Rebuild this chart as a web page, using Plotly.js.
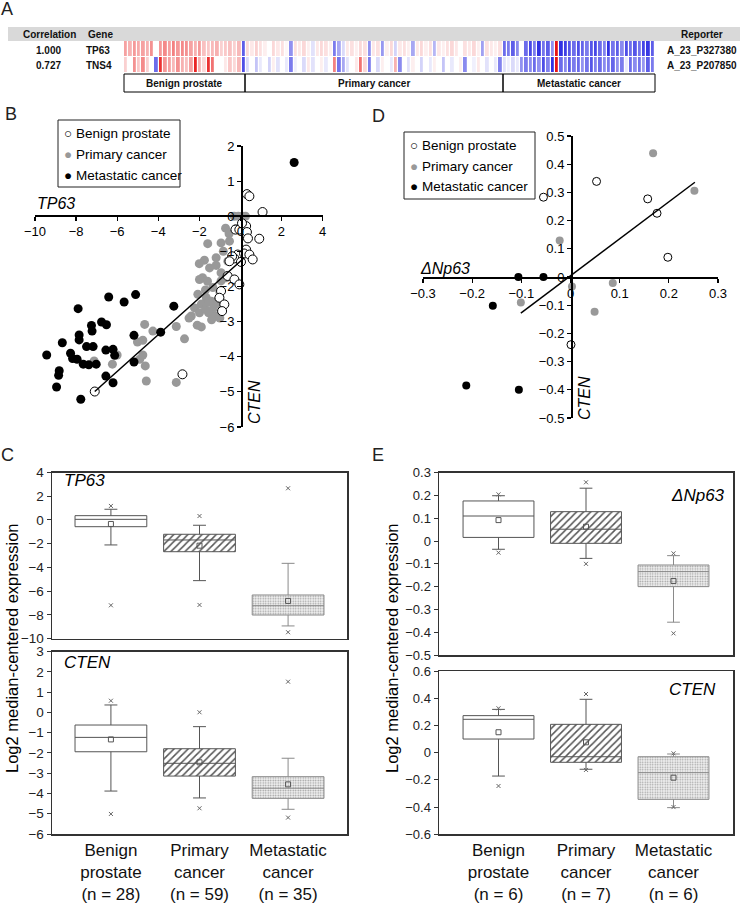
<!DOCTYPE html>
<html>
<head>
<meta charset="utf-8">
<script src="https://cdn.plot.ly/plotly-3.0.1.min.js"></script>
<style>
  html, body { margin: 0; padding: 0; background: #fff; }
  #chart { width: 748px; height: 904px; }
</style>
</head>
<body>
<div id="chart"></div>
<script>
// ---- panel A : heatmap (28 benign, 59 primary, 35 metastatic samples) ----
var tp63Benign = [1.2, 1.0, 1.3, 1.1, 1.2, 1.0, 1.4, 0.0, 1.3, 1.5,
  1.2, 1.6, 1.3, 1.5, 1.4, 1.2, 1.0, 1.3, 0.8, 0.7,
  0.9, 1.0, 0.6, 0.7, 0.8, 0.6, 0.9, -2.2];
var tp63Primary = [0.5, 0.3, 0.6, 0.4, 0.2, 0.0, 0.5, 0.3, 0.4, 0.1,
  -1.5, 0.4, 0.3, 0.5, 0.2, -0.4, 0.3, 0.5, 0.4, 0.2,
  -1.8, -1.2, -0.5, 0.3, 0.4, 0.2, 0.5, 0.4, -1.5, 0.3,
  0.4, -1.4, 0.2, 0.5, -0.6, 0.3, 0.4, 0.2, -1.2, 0.3,
  0.5, 0.2, 0.4, -1.0, 0.3, 0.2, 0.4, 0.5, 0.3, 0.0,
  0.4, 0.3, 0.5, 0.2, -1.3, 0.4, 0.3, 0.2, 0.4];
var tp63Meta = [-2.0, -1.8, -2.2, -1.6, 0.0, -2.0, -2.5, -1.8, -2.8, -1.9,
  -2.2, -1.5, 3.0, -2.8, -2.6, -2.3, -2.0, -2.4, -2.1, -1.8,
  -2.3, -2.5, -2.0, -1.7, -2.8, -1.9, -2.2, -1.6, -2.4, -2.0,
  -2.3, -1.9, -2.5, -2.7, -2.2];
var tns4Benign = [0.6, 0.0, 1.4, 0.7, 1.5, 0.6, 0.0, -2.0, 2.6, 1.3,
  1.2, 0.9, 1.4, 1.0, 0.8, 1.2, 2.8, 1.0, 0.5, 2.6,
  1.8, 0.0, 0.0, 0.3, 0.7, 0.5, 0.9, -2.4];
var tns4Primary = [-0.5, 0.0, -0.8, -0.3, 0.0, -0.6, 0.2, -0.4, 0.0, -0.3,
  -1.8, -0.2, 0.0, -0.5, 0.3, -0.4, 0.0, 0.2, -0.3, 0.0,
  1.6, -1.9, -1.2, -0.4, 0.0, 0.3, 1.8, 0.5, -1.8, 0.0,
  -0.5, 0.2, 0.0, -0.3, 1.0, -1.6, 0.0, -0.4, 0.2, 0.0,
  -0.6, 0.0, -0.3, 0.2, 0.0, -0.8, 0.0, -0.3, 0.0, 0.2,
  -1.6, 0.0, -0.2, 0.3, 0.0, -0.4, 0.0, -0.3, -1.7];
var tns4Meta = [-0.4, -0.2, -0.5, -0.3, -1.5, -1.8, -1.6, -2.0, -1.5, -2.4,
  -1.7, -2.8, 3.0, -2.0, -1.6, -2.2, -1.8, -2.0, -1.5, -1.9,
  -2.3, -1.7, -2.0, -1.6, -1.8, -2.1, -1.5, -1.8, -0.3, -2.0,
  -1.6, -1.9, -1.4, -2.2, -1.8];

// ---- panel B : TP63 vs CTEN ----
var benignBx = [0.32, 0.44, 1.08, -0.24, -0.05, 0.28, 0.32, 0.37, 0.92, 0.28, -0.13, 0.18, 0.44, 0.60,
  -0.29, -0.40, -0.53, 0.03, -0.62, -0.29, -0.05, -0.94, -1.02, -0.78, -0.89, -2.82, -7.09, 0.08];
var benignBy = [0.63, 0.57, 0.12, -0.38, -0.38, -0.28, -0.45, -0.63, -0.64, -0.95, -1.09, -1.06, -1.09, -1.23,
  -1.20, -1.14, -1.28, -1.30, -1.70, -1.80, -1.94, -2.13, -2.32, -2.51, -2.70, -4.50, -4.99, -0.20];
var primaryBx = [-0.30, -0.10, 0.10, 0.25, -0.21, -0.72, -0.53, -1.59, -0.94, -0.83, -1.75, -1.18, -1.50, -1.18,
  -0.94, -1.84, -1.99, -1.60, -1.34, -1.70, -2.07, -1.66, -1.42, -1.18, -1.90, -2.23, -1.34, -1.55, -0.94,
  -0.69, -0.61, -2.39, -1.99, -1.70, -1.55, -1.10, -1.20, -1.40, -1.00, -1.90, -2.10, -3.12, -2.72, -4.66,
  -4.26, -5.01, -4.75, -4.90, -4.63, -4.58, -3.12, -6.23, -7.12, -6.00, -4.75, -2.50, -0.55, -2.00, -1.00];
var primaryBy = [0.00, 0.00, 0.00, 0.00, -0.35, -0.34, -0.71, -0.78, -0.76, -1.00, -1.25, -1.18, -1.47, -1.40,
  -1.61, -1.75, -1.80, -1.85, -2.03, -2.10, -2.22, -2.32, -2.42, -2.51, -2.50, -2.61, -2.65, -2.75, -1.84,
  -1.75, -1.28, -2.84, -2.75, -2.65, -2.45, -2.40, -2.85, -2.95, -2.90, -3.15, -3.10, -3.14, -3.49, -3.08,
  -3.27, -3.58, -3.53, -4.07, -4.26, -4.69, -4.73, -4.21, -4.12, -3.95, -3.95, -2.90, -0.50, -1.35, -2.15];
var metaBx = [-9.43, -8.67, -7.90, -7.85, -7.85, -8.27, -8.17, -7.95, -7.65, -7.38, -7.02, -7.49, -7.17, -7.25,
  -7.22, -6.76, -6.52, -6.41, -5.66, -5.10, -6.55, -6.20, -6.12, -5.18, -5.18, -3.88, -3.24, -8.82, -8.85,
  -6.55, -6.20, -8.95, -7.77, 2.62];
var metaBy = [-3.95, -3.60, -2.63, -3.38, -3.52, -3.90, -4.05, -4.07, -4.21, -4.23, -4.21, -3.71, -3.71, -3.11,
  -3.27, -3.01, -3.09, -2.30, -2.44, -2.23, -3.81, -3.79, -3.96, -3.39, -4.15, -3.30, -2.56, -4.40, -4.53,
  -4.55, -4.74, -4.86, -5.21, 1.53];
var fitBx = [-7.09, 0.19];
var fitBy = [-4.99, -1.18];

// ---- panel D : deltaNp63 vs CTEN ----
var benignDx = [-0.055, 0.053, 0.157, 0.176, 0.198, 0.001];
var benignDy = [0.283, 0.339, 0.277, 0.226, 0.070, -0.240];
var primaryDx = [0.168, 0.252, -0.022, 0.003, 0.086, -0.101, 0.049];
var primaryDy = [0.439, 0.306, 0.129, -0.034, -0.021, -0.090, -0.123];
var metaDx = [-0.106, -0.055, -0.158, -0.212, -0.105];
var metaDy = [0.0, 0.0, -0.102, -0.385, -0.400];
var fitDx = [-0.101, 0.253];
var fitDy = [-0.128, 0.336];

// ---- panels C and E : box stats per group ----
// [low x, low whisker, q1, median, q3, high whisker, high x, mean]
var tp63Stats = [
  [-7.20, -2.11, -0.57, 0.05, 0.36, 0.90, 1.18, -0.34],
  [-7.17, -5.12, -2.68, -1.69, -1.21, -0.45, 0.33, -2.17],
  [-9.47, -8.94, -8.02, -7.23, -6.33, -3.66, 2.67, -6.83]
];
var ctenStatsC = [
  [-5.01, -3.88, -1.94, -1.23, -0.62, 0.37, 0.58, -1.33],
  [-4.73, -4.22, -3.14, -2.51, -1.79, -0.70, 0.01, -2.46],
  [-5.19, -4.78, -4.24, -3.74, -3.17, -2.26, 1.52, -3.55]
];
var np63Stats = [
  [-0.051, -0.036, 0.016, 0.110, 0.176, 0.199, 0.205, 0.092],
  [-0.100, -0.076, -0.010, 0.052, 0.129, 0.232, 0.258, 0.063],
  [-0.405, -0.356, -0.200, -0.134, -0.105, -0.064, -0.054, -0.175]
];
var ctenStatsE = [
  [-0.245, -0.172, 0.100, 0.245, 0.272, 0.318, 0.326, 0.150],
  [-0.127, -0.122, -0.071, -0.030, 0.208, 0.392, 0.431, 0.076],
  [-0.400, -0.404, -0.343, -0.147, -0.030, -0.010, -0.005, -0.184]
];
var labelsC = ['Benign<br>prostate<br>(n = 28)', 'Primary<br>cancer<br>(n = 59)', 'Metastatic<br>cancer<br>(n = 35)'];
var labelsE = ['Benign<br>prostate<br>(n = 6)', 'Primary<br>cancer<br>(n = 7)', 'Metastatic<br>cancer<br>(n = 6)'];

var W = 748, H = 904;
var FONT = 'Liberation Sans, Arial, sans-serif';
function X(px) { return px / W; }
function Y(py) { return 1 - py / H; }

var data = [];

// heatmap
data.push({
  type: 'heatmap',
  z: [tp63Benign.concat(tp63Primary, tp63Meta), tns4Benign.concat(tns4Primary, tns4Meta)],
  xaxis: 'x', yaxis: 'y',
  zmin: -3, zmax: 3,
  colorscale: [[0, 'rgb(35,35,225)'], [0.5, 'rgb(255,255,255)'], [1, 'rgb(232,20,20)']],
  showscale: false, xgap: 1.2, ygap: 1, hoverinfo: 'skip'
});

// scatter panels
function pts(x, y, xa, ya, kind, size) {
  var m = {size: size, color: '#000', line: {width: 0}};
  if (kind === 'benign') m = {size: size, color: '#fff', line: {color: '#000', width: 1}};
  if (kind === 'primary') m = {size: size, color: '#999', line: {width: 0}};
  return {type: 'scatter', mode: 'markers', x: x, y: y, xaxis: xa, yaxis: ya,
          marker: m, cliponaxis: false, showlegend: false, hoverinfo: 'skip'};
}
function fit(x, y, xa, ya) {
  return {type: 'scatter', mode: 'lines', x: x, y: y, xaxis: xa, yaxis: ya,
          line: {color: '#000', width: 1.5}, showlegend: false, hoverinfo: 'skip'};
}
data.push(pts(primaryBx, primaryBy, 'x2', 'y2', 'primary', 9));
data.push(pts(metaBx, metaBy, 'x2', 'y2', 'meta', 9));
data.push(pts(benignBx, benignBy, 'x2', 'y2', 'benign', 9));
data.push(fit(fitBx, fitBy, 'x2', 'y2'));
data.push(pts(primaryDx, primaryDy, 'x3', 'y3', 'primary', 8));
data.push(pts(metaDx, metaDy, 'x3', 'y3', 'meta', 8));
data.push(pts(benignDx, benignDy, 'x3', 'y3', 'benign', 8));
data.push(fit(fitDx, fitDy, 'x3', 'y3'));

// box panels
function boxPanel(stats, xa, ya) {
  data.push({
    type: 'bar', x: [0, 1, 2], xaxis: xa, yaxis: ya,
    base: stats.map(function(s) { return s[2]; }),
    y: stats.map(function(s) { return s[4] - s[2]; }),
    width: 0.81,
    marker: {color: '#fff', line: {width: 0},
      pattern: {shape: ['', '/', '.'], fgcolor: ['#fff', '#555', '#a0a0a0'],
                bgcolor: ['#fff', '#fff', '#f1f1f1'], size: [6, 5, 2.5], solidity: [0.1, 0.3, 0.3]}},
    showlegend: false, hoverinfo: 'skip'
  });
  stats.forEach(function(s, i) {
    data.push({
      type: 'box', x: [i], xaxis: xa, yaxis: ya,
      q1: [s[2]], median: [s[3]], q3: [s[4]], lowerfence: [s[1]], upperfence: [s[5]],
      width: 0.81, whiskerwidth: 0.18, fillcolor: 'rgba(0,0,0,0)',
      line: {color: i === 2 ? '#8a8a8a' : '#555', width: 1},
      boxpoints: false, showlegend: false, hoverinfo: 'skip'
    });
  });
  data.push({
    type: 'scatter', mode: 'markers', x: [0, 1, 2], xaxis: xa, yaxis: ya,
    y: stats.map(function(s) { return s[7]; }),
    marker: {symbol: 'square-open', size: 5, color: '#555', line: {width: 1}},
    showlegend: false, hoverinfo: 'skip'
  });
  data.push({
    type: 'scatter', mode: 'markers', x: [0, 0, 1, 1, 2, 2], xaxis: xa, yaxis: ya,
    y: [stats[0][0], stats[0][6], stats[1][0], stats[1][6], stats[2][0], stats[2][6]],
    marker: {symbol: 'x-thin-open', size: 4, color: '#666', line: {width: 1, color: '#666'}},
    cliponaxis: false, showlegend: false, hoverinfo: 'skip'
  });
}
boxPanel(tp63Stats, 'x4', 'y4');
boxPanel(ctenStatsC, 'x5', 'y5');
boxPanel(np63Stats, 'x6', 'y6');
boxPanel(ctenStatsE, 'x7', 'y7');

// axes
function crossAxis(domain, range, dtick, pos) {
  return {domain: domain, range: range, dtick: dtick, tick0: range[0], anchor: 'free', position: pos,
          showline: true, linecolor: '#000', linewidth: 1.5, ticks: 'outside', ticklen: 4,
          tickcolor: '#000', tickwidth: 1.2, showgrid: false, zeroline: false,
          tickfont: {size: 13, color: '#000'}, fixedrange: true};
}
function boxY(domain, range, dtick, size) {
  return {domain: domain, range: range, dtick: dtick, tick0: range[0], showline: true, mirror: true,
          linecolor: '#333', linewidth: 1.5, ticks: 'outside', ticklen: 4, tickcolor: '#333',
          showgrid: false, zeroline: false, tickfont: {size: size, color: '#222'}};
}
function boxX(domain, range, anchor, labels) {
  var ax = {domain: domain, range: range, anchor: anchor, showline: true, mirror: true,
            linecolor: '#333', linewidth: 1.5, ticks: '', showgrid: false, zeroline: false,
            tickvals: [0, 1, 2], showticklabels: false};
  if (labels) {
    ax.showticklabels = true;
    ax.ticktext = labels;
    ax.tickfont = {size: 17, color: '#111'};
  }
  return ax;
}

var layout = {
  width: W, height: H,
  margin: {l: 0, r: 0, t: 0, b: 0},
  paper_bgcolor: '#fff', plot_bgcolor: 'rgba(0,0,0,0)',
  font: {family: FONT, color: '#000'},
  showlegend: false, barmode: 'overlay', boxmode: 'overlay',
  xaxis: {domain: [X(124), X(655)], range: [-0.5, 121.5], visible: false, anchor: 'y'},
  yaxis: {domain: [Y(73), Y(41)], range: [1.5, -0.5], visible: false, anchor: 'x'},
  xaxis2: crossAxis([X(35), X(322.5)], [-10, 4], 2, Y(215)),
  yaxis2: crossAxis([Y(427), Y(146)], [-6, 2], 1, X(241)),
  xaxis3: crossAxis([X(423), X(718)], [-0.3, 0.3], 0.1, Y(277)),
  yaxis3: crossAxis([Y(418), Y(136)], [-0.5, 0.5], 0.1, X(571)),
  xaxis4: boxX([X(52), X(347)], [-0.665, 2.665], 'y4', null),
  yaxis4: boxY([Y(638.5), Y(472.5)], [-10, 4], 2, 13.5),
  xaxis5: boxX([X(52), X(347)], [-0.665, 2.665], 'y5', labelsC),
  yaxis5: boxY([Y(834), Y(651.7)], [-6, 3], 1, 13.5),
  xaxis6: boxX([X(439), X(733)], [-0.68, 2.68], 'y6', null),
  yaxis6: boxY([Y(655), Y(472.7)], [-0.5, 0.3], 0.1, 13),
  xaxis7: boxX([X(439), X(733)], [-0.68, 2.68], 'y7', labelsE),
  yaxis7: boxY([Y(834.3), Y(671)], [-0.6, 0.6], 0.2, 13)
};
layout.yaxis4.anchor = 'x4';
layout.yaxis5.anchor = 'x5';
layout.yaxis6.anchor = 'x6';
layout.yaxis7.anchor = 'x7';

// shapes: header band, group boxes, legend boxes
layout.shapes = [
  {type: 'rect', xref: 'paper', yref: 'paper', x0: X(8), x1: X(740), y0: Y(41), y1: Y(27),
   fillcolor: '#d9d9d9', line: {width: 0}, layer: 'below'},
  {type: 'rect', xref: 'paper', yref: 'paper', x0: X(124), x1: X(245), y0: Y(92), y1: Y(74), line: {color: '#000', width: 1}},
  {type: 'rect', xref: 'paper', yref: 'paper', x0: X(245), x1: X(503), y0: Y(92), y1: Y(74), line: {color: '#000', width: 1}},
  {type: 'rect', xref: 'paper', yref: 'paper', x0: X(503), x1: X(655), y0: Y(92), y1: Y(74), line: {color: '#000', width: 1}},
  {type: 'rect', xref: 'paper', yref: 'paper', x0: X(58), x1: X(180), y0: Y(187), y1: Y(120), line: {color: '#222', width: 1}, fillcolor: '#fff'},
  {type: 'rect', xref: 'paper', yref: 'paper', x0: X(404), x1: X(535), y0: Y(199), y1: Y(132), line: {color: '#222', width: 1}, fillcolor: '#fff'}
];

function note(text, px, py, opts) {
  var a = {text: text, xref: 'paper', yref: 'paper', x: X(px), y: Y(py), showarrow: false,
           xanchor: 'center', yanchor: 'middle', font: {family: FONT, size: 14, color: '#000'}};
  for (var k in opts) a[k] = opts[k];
  return a;
}
var bold10 = {size: 10, color: '#111'};
var legendRows = [
  '<span style="color:#000">○</span> Benign prostate',
  '<span style="color:#999">●</span> Primary cancer',
  '<span style="color:#000">●</span> Metastatic cancer'
];

layout.annotations = [
  note('A', 7, 9, {font: {size: 18, color: '#222'}}),
  note('B', 11, 114, {font: {size: 18, color: '#222'}}),
  note('D', 378, 116, {font: {size: 18, color: '#222'}}),
  note('C', 8, 455, {font: {size: 18, color: '#222'}}),
  note('E', 378, 455, {font: {size: 18, color: '#222'}}),

  note('<b>Correlation</b>', 49, 34, {font: bold10}),
  note('<b>Gene</b>', 100, 34, {font: bold10}),
  note('<b>Reporter</b>', 702, 34, {font: bold10}),
  note('<b>1.000</b>', 48, 50, {font: bold10}),
  note('<b>0.727</b>', 48, 66, {font: bold10}),
  note('<b>TP63</b>', 84, 50, {font: bold10, xanchor: 'left'}),
  note('<b>TNS4</b>', 84, 66, {font: bold10, xanchor: 'left'}),
  note('<b>A_23_P327380</b>', 702, 50, {font: bold10}),
  note('<b>A_23_P207850</b>', 702, 66, {font: bold10}),
  note('<b>Benign prostate</b>', 184.5, 83, {font: bold10}),
  note('<b>Primary cancer</b>', 374, 83, {font: bold10}),
  note('<b>Metastatic cancer</b>', 579, 83, {font: bold10}),

  note('<i>TP63</i>', 35, 203, {xanchor: 'left', font: {size: 16}}),
  note('<i>CTEN</i>', 254, 402, {textangle: -90, font: {size: 16}}),
  note('<i>ΔNp63</i>', 418, 268, {xanchor: 'left', font: {size: 16}}),
  note('<i>CTEN</i>', 585, 398, {textangle: -90, font: {size: 16}}),

  note('<i>TP63</i>', 62, 480, {xanchor: 'left', font: {size: 17}}),
  note('<i>CTEN</i>', 62, 662, {xanchor: 'left', font: {size: 17}}),
  note('<i>ΔNp63</i>', 727, 495, {xanchor: 'right', font: {size: 17}}),
  note('<i>CTEN</i>', 718, 689, {xanchor: 'right', font: {size: 17}}),

  note('Log2 median-centered expression', 12, 648, {textangle: -90, font: {size: 16.5}}),
  note('Log2 median-centered expression', 392, 648, {textangle: -90, font: {size: 16.5}})
];
legendRows.forEach(function(t, i) {
  layout.annotations.push(note(t, 62, 133 + i * 21, {xanchor: 'left', font: {size: 13.5}}));
  layout.annotations.push(note(t, 408, 145 + i * 21, {xanchor: 'left', font: {size: 13.5}}));
});

Plotly.newPlot('chart', data, layout, {staticPlot: true});
</script>
</body>
</html>
